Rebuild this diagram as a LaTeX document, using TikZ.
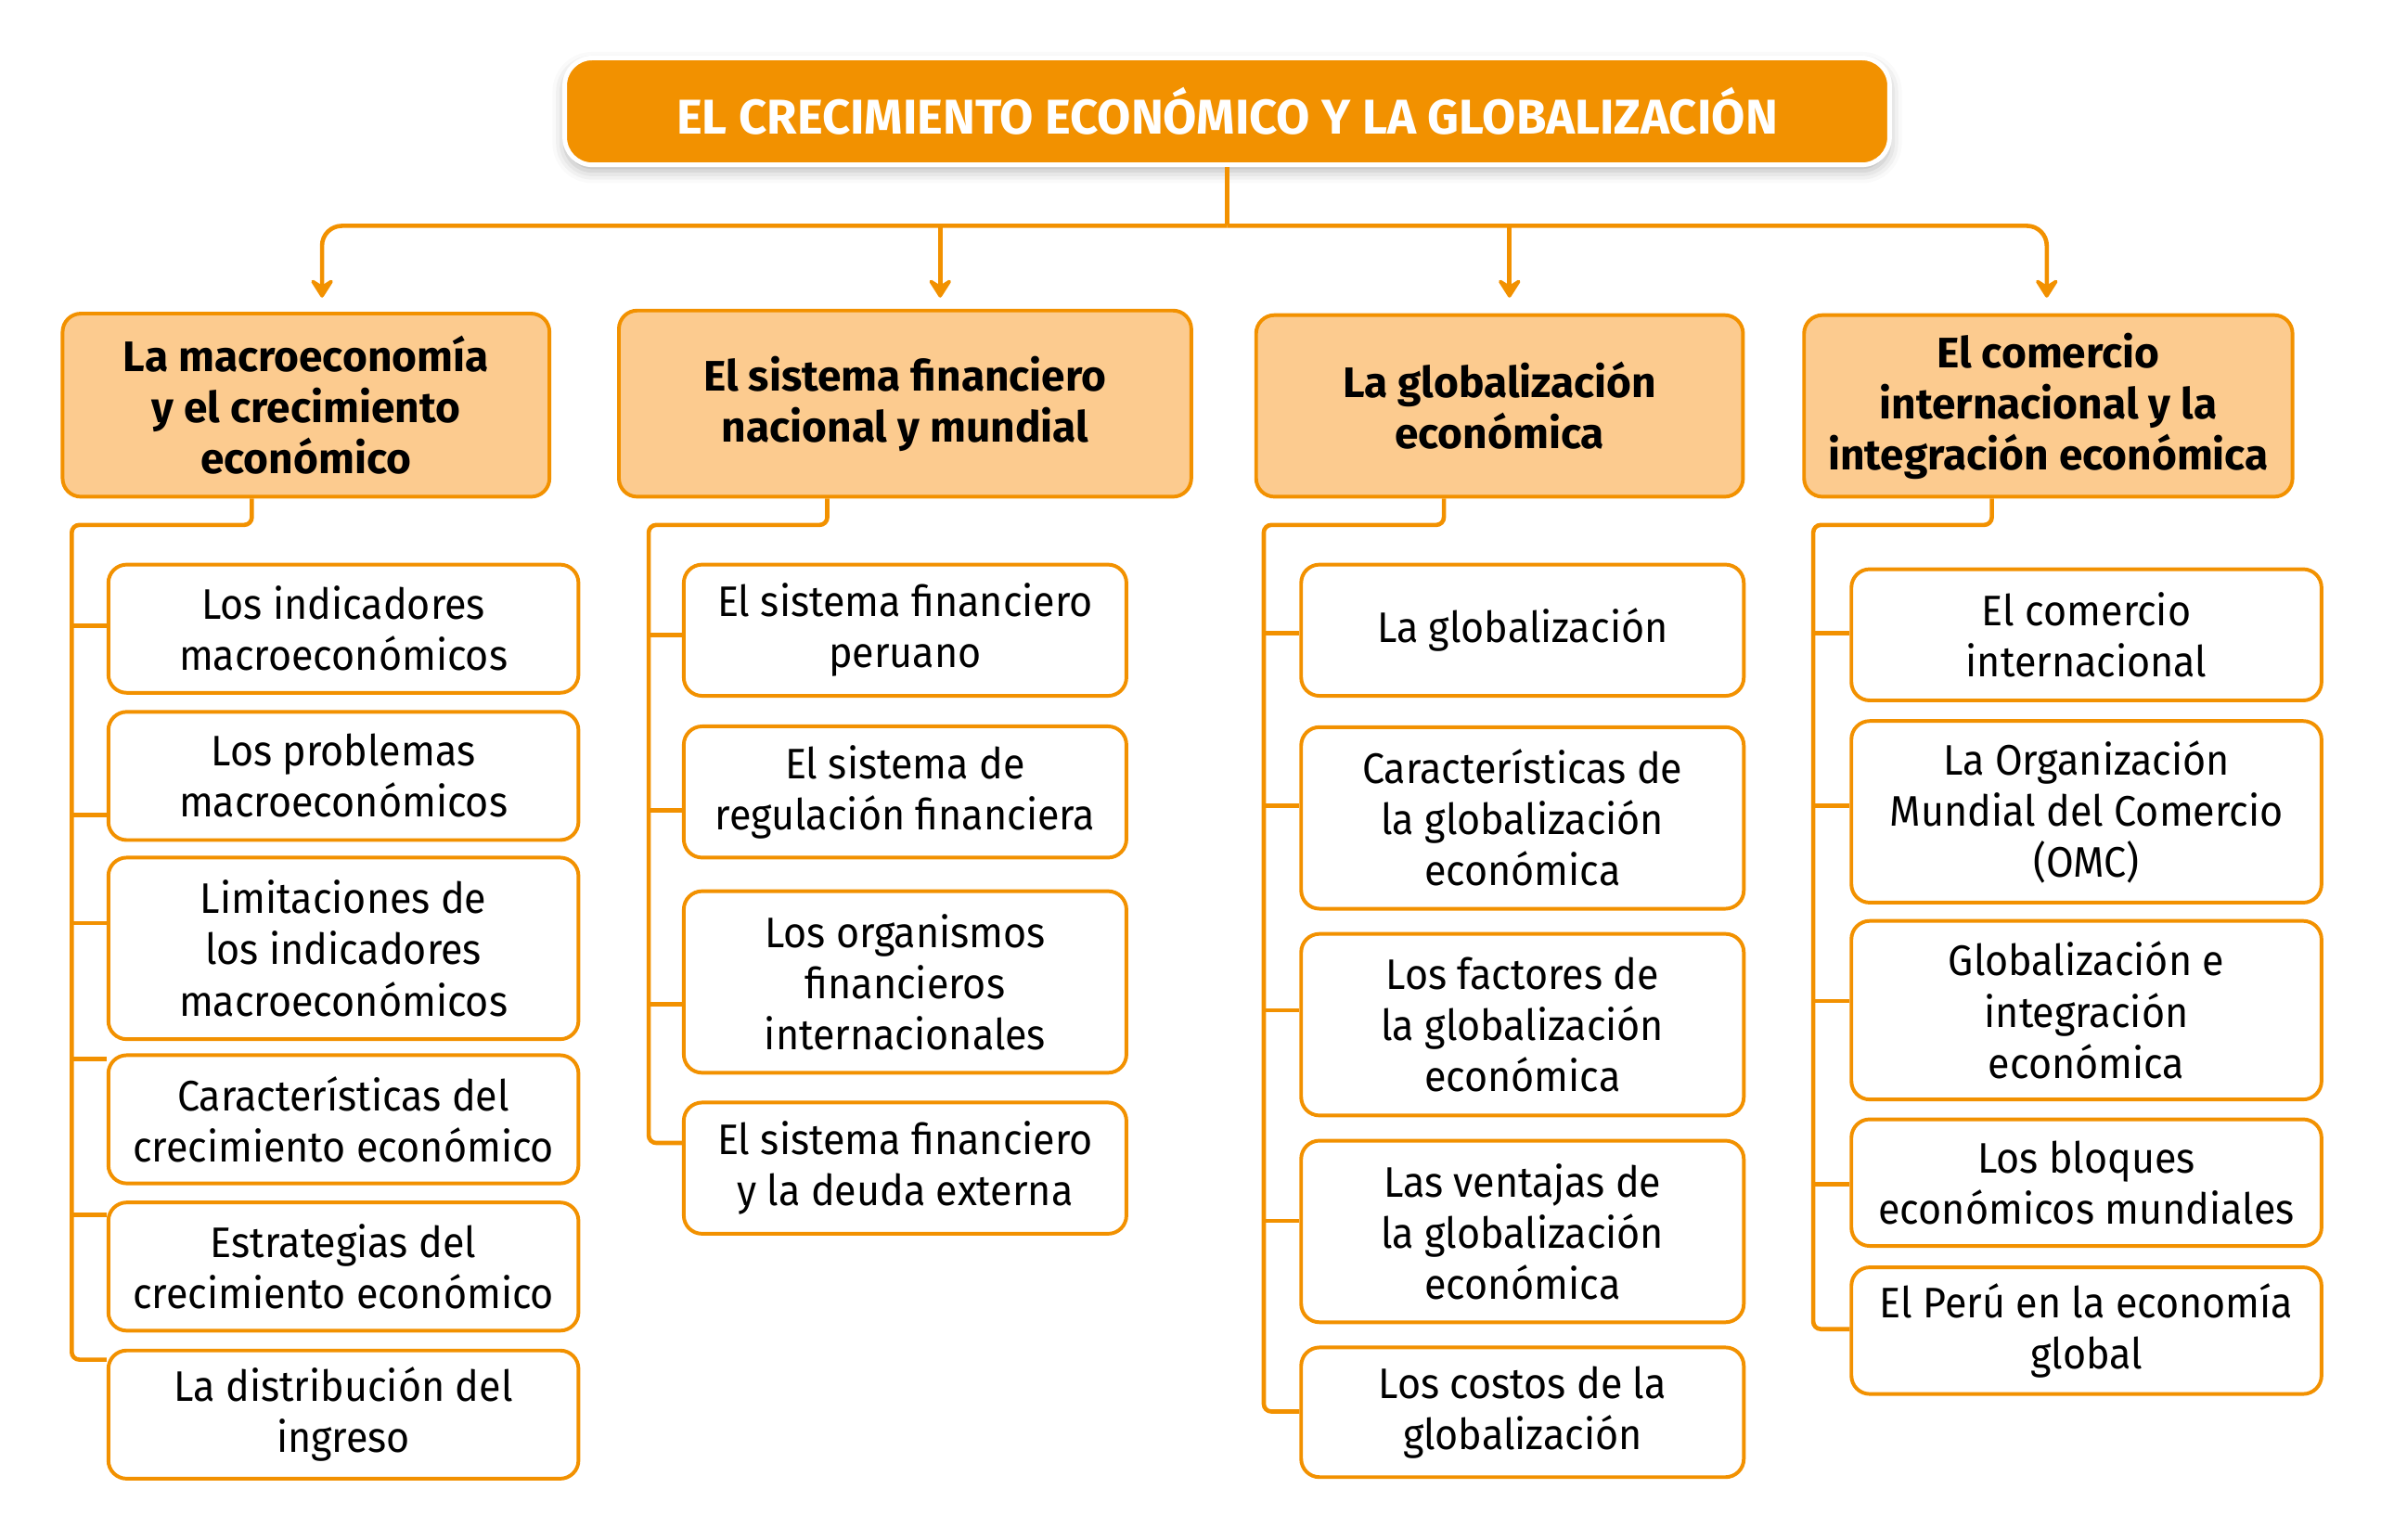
\documentclass[tikz,border=0pt]{standalone}
\usepackage{fontspec}
\setmainfont{Fira Sans}
\newfontfamily\cuerpo{Fira Sans}[FakeStretch=0.935]
\usetikzlibrary{arrows.meta,shadows.blur}
\definecolor{naranja}{RGB}{242,145,0}
\definecolor{melon}{RGB}{252,203,143}

\begin{document}
\begin{tikzpicture}[x=1pt, y=-1pt,
  caja/.style={rectangle, rounded corners=12pt, draw=naranja, line width=2.4pt, fill=white,
    align=center, inner sep=0pt, font=\cuerpo\fontsize{28}{33.5}\selectfont},
  tema/.style={caja, fill=melon, font=\fontsize{28}{33.5}\selectfont\bfseries},
  baja/.style={minimum height=84pt},
  alta/.style={minimum height=119pt},
  linea/.style={draw=naranja, line width=2.8pt},
  flecha/.style={linea, -{Stealth[length=15pt,width=19pt,inset=6pt,round]}}]
\useasboundingbox (0,0) rectangle (1560,1009);

% titulo
\node[fill=naranja, draw=white, line width=3pt, rounded corners=18pt,
  minimum width=868pt, minimum height=70pt, text=white,
  font=\fontsize{32}{40}\selectfont\bfseries,
  blur shadow={shadow xshift=0pt, shadow yshift=-4pt, shadow blur radius=8pt, shadow opacity=30}]
  (titulo) at (804,73) {EL CRECIMIENTO ECONÓMICO Y LA GLOBALIZACIÓN};

% temas
\node[tema, minimum width=319pt, minimum height=120pt] (macro) at (200.5,265.5) {La macroeconomía\\y el crecimiento\\económico};
\node[tema, minimum width=375pt, minimum height=122pt] (finan) at (593,264.5) {El sistema financiero\\nacional y mundial};
\node[tema, minimum width=319pt, minimum height=119pt] (glob) at (982.5,266) {La globalización\\económica};
\node[tema, minimum width=320pt, minimum height=119pt] (comer) at (1342,266) {El comercio\\internacional y la\\integración económica};

% llaves del titulo
\coordinate (cruce) at (804,148);
\coordinate (pA) at (211,195);
\coordinate (pB) at (616,195);
\coordinate (pC) at (989,195);
\coordinate (pD) at (1341,195);
\draw[linea] (titulo.south) -- (cruce);
\draw[flecha, rounded corners=13pt] (cruce) -| (pA);
\draw[flecha, rounded corners=13pt] (cruce) -| (pD);
\draw[flecha] (pB |- cruce) -- (pB);
\draw[flecha] (pC |- cruce) -- (pC);

% columna 1
\node[caja, baja, minimum width=308pt] (m1) at (225,412) {Los indicadores\\macroeconómicos};
\node[caja, baja, minimum width=308pt] (m2) at (225,508.5) {Los problemas\\macroeconómicos};
\node[caja, alta, minimum width=308pt] (m3) at (225,621.5) {Limitaciones de\\los indicadores\\macroeconómicos};
\node[caja, baja, minimum width=308pt] (m4) at (225,733.5) {Características del\\crecimiento económico};
\node[caja, baja, minimum width=308pt] (m5) at (225,830) {Estrategias del\\crecimiento económico};
\node[caja, baja, minimum width=308pt] (m6) at (225,927) {La distribución del\\ingreso};

\draw[linea, rounded corners=5pt] (macro.south -| 165,0) -- (165,344) -- (47,344) -- (47,891) -- (m6.west |- 0,891);
\draw[linea] (47,410) -- (m1.west |- 0,410);
\draw[linea] (47,534) -- (m2.west |- 0,534);
\draw[linea] (47,605) -- (m3.west |- 0,605);
\draw[linea] (47,694) -- (m4.west |- 0,694);
\draw[linea] (47,796) -- (m5.west |- 0,796);

% columna 2
\node[caja, minimum width=290pt, minimum height=86pt] (f1) at (593,413) {El sistema financiero\\peruano};
\node[caja, minimum width=290pt, minimum height=86pt] (f2) at (593,519) {El sistema de\\regulación financiera};
\node[caja, alta, minimum width=290pt] (f3) at (593,643.5) {Los organismos\\financieros\\internacionales};
\node[caja, minimum width=290pt, minimum height=86pt] (f4) at (593,765.5) {El sistema financiero\\y la deuda externa};

\draw[linea, rounded corners=5pt] (finan.south -| 542,0) -- (542,344) -- (425,344) -- (425,749) -- (f4.west |- 0,749);
\draw[linea] (425,416) -- (f1.west |- 0,416);
\draw[linea] (425,531) -- (f2.west |- 0,531);
\draw[linea] (425,658) -- (f3.west |- 0,658);

% columna 3
\node[caja, minimum width=290pt, minimum height=86pt] (g1) at (997.5,413) {La globalización};
\node[caja, alta, minimum width=290pt] (g2) at (997.5,536) {Características de\\la globalización\\económica};
\node[caja, alta, minimum width=290pt] (g3) at (997.5,671.5) {Los factores de\\la globalización\\económica};
\node[caja, alta, minimum width=290pt] (g4) at (997.5,807) {Las ventajas de\\la globalización\\económica};
\node[caja, minimum width=290pt, minimum height=85pt] (g5) at (997.5,925.5) {Los costos de la\\globalización};

\draw[linea, rounded corners=5pt] (glob.south -| 946,0) -- (946,344) -- (828,344) -- (828,925) -- (g5.west |- 0,925);
\draw[linea] (828,415) -- (g1.west |- 0,415);
\draw[linea] (828,528) -- (g2.west |- 0,528);
\draw[linea] (828,662) -- (g3.west |- 0,662);
\draw[linea] (828,800) -- (g4.west |- 0,800);

% columna 4
\node[caja, minimum width=308pt, minimum height=86pt] (c1) at (1367,416) {El comercio\\internacional};
\node[caja, alta, minimum width=308pt] (c2) at (1367,532) {La Organización\\Mundial del Comercio\\(OMC)};
\node[caja, minimum width=308pt, minimum height=117pt] (c3) at (1367,662) {Globalización e\\integración\\económica};
\node[caja, minimum width=308pt, minimum height=83pt] (c4) at (1367,775) {Los bloques\\económicos mundiales};
\node[caja, minimum width=308pt, minimum height=83pt] (c5) at (1367,872) {El Perú en la economía\\global};

\draw[linea, rounded corners=5pt] (comer.south -| 1305,0) -- (1305,344) -- (1188,344) -- (1188,871) -- (c5.west |- 0,871);
\draw[linea] (1188,415) -- (c1.west |- 0,415);
\draw[linea] (1188,528) -- (c2.west |- 0,528);
\draw[linea] (1188,656) -- (c3.west |- 0,656);
\draw[linea] (1188,776) -- (c4.west |- 0,776);
\end{tikzpicture}
\end{document}
